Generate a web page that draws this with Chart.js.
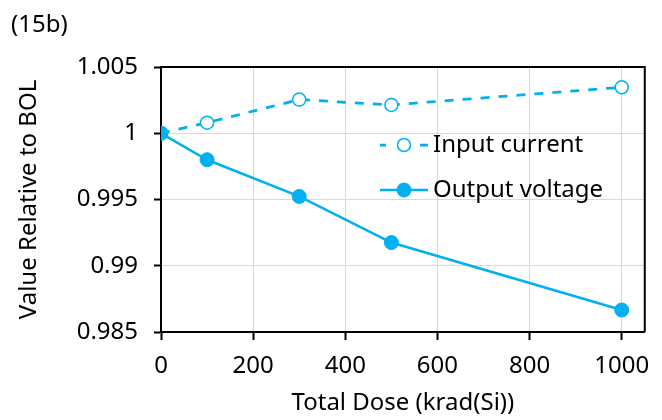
<!DOCTYPE html>
<html>
<head>
<meta charset="utf-8">
<script src="https://cdn.jsdelivr.net/npm/chart.js@4.4.1/dist/chart.umd.min.js"></script>
<style>
  html, body { margin: 0; padding: 0; background: #fff; }
  #wrap { width: 662px; height: 420px; position: relative; }
</style>
</head>
<body>
<div id="wrap"><canvas id="lineChart"></canvas></div>
<script>
// values
var doses = [0, 100, 300, 500, 1000];
var inputCurrent = [1.0, 1.0008, 1.00254, 1.00214, 1.00347];
var outputVoltage = [1.0, 0.998, 0.99523, 0.99175, 0.98666];
var seriesNames = ['Input current', 'Output voltage'];
var xTicks = [0, 200, 400, 600, 800, 1000];
var yTicks = [0.985, 0.99, 0.995, 1, 1.005];
var yTickLabels = ['0.985', '0.99', '0.995', '1', '1.005'];
var panelLabel = '(15b)';

var blue = '#00B0F0';
var fontFamily = '"Noto Sans", "Open Sans", sans-serif';
var fontSize = 24;

function pairs(xs, ys) {
    return xs.map(function(x, i) { return { x: x, y: ys[i] }; });
}

// draws the panel label, the top/right frame and the legend inside the plot
var extras = {
    id: 'extras',
    beforeDatasetsDraw: function(chart) {
        var ctx = chart.ctx, a = chart.chartArea;
        ctx.save();
        ctx.strokeStyle = '#000';
        ctx.lineWidth = 2;
        ctx.beginPath();
        ctx.moveTo(a.left, a.top);
        ctx.lineTo(a.right, a.top);
        ctx.lineTo(a.right, a.bottom);
        ctx.stroke();
        ctx.restore();
    },
    afterDraw: function(chart) {
        var ctx = chart.ctx;
        ctx.save();
        ctx.fillStyle = '#000';
        ctx.font = fontSize + 'px ' + fontFamily;
        ctx.textBaseline = 'middle';
        ctx.textAlign = 'left';
        ctx.fillText(panelLabel, 11, 25);

        var x0 = 380, x1 = 428, y = 145, rowGap = 45;
        chart.data.datasets.forEach(function(ds, i) {
            var yy = y + i * rowGap;
            ctx.strokeStyle = ds.borderColor;
            ctx.lineWidth = ds.borderWidth;
            ctx.beginPath();
            if (ds.borderDash) {
                ctx.moveTo(x0, yy); ctx.lineTo(x0 + 6, yy);
                ctx.moveTo(x1 - 8, yy); ctx.lineTo(x1, yy);
            } else {
                ctx.moveTo(x0, yy); ctx.lineTo(x1, yy);
            }
            ctx.stroke();
            ctx.beginPath();
            ctx.arc((x0 + x1) / 2, yy, ds.pointRadius, 0, Math.PI * 2);
            ctx.fillStyle = ds.pointBackgroundColor;
            ctx.fill();
            ctx.lineWidth = ds.pointBorderWidth;
            ctx.strokeStyle = ds.pointBorderColor;
            ctx.stroke();
            ctx.fillStyle = '#000';
            ctx.fillText(ds.label, x1 + 5, yy);
        });
        ctx.restore();
    }
};

var ctxL = document.getElementById('lineChart').getContext('2d');
var myLineChart = new Chart(ctxL, {
    type: 'scatter',
    data: {
        datasets: [
            {
                label: seriesNames[0],
                data: pairs(doses, inputCurrent),
                showLine: true,
                borderColor: blue,
                borderWidth: 2.75,
                borderDash: [9, 9],
                pointRadius: 6.5,
                pointBackgroundColor: '#fff',
                pointBorderColor: blue,
                pointBorderWidth: 1.5,
                order: 2
            },
            {
                label: seriesNames[1],
                data: pairs(doses, outputVoltage),
                showLine: true,
                borderColor: blue,
                borderWidth: 2.5,
                pointRadius: 7,
                pointBackgroundColor: blue,
                pointBorderColor: blue,
                pointBorderWidth: 1,
                order: 1
            }
        ]
    },
    options: {
        responsive: true,
        maintainAspectRatio: false,
        animation: false,
        layout: { padding: { left: 0, right: 17, top: 67, bottom: 0 } },
        plugins: {
            legend: { display: false },
            tooltip: { enabled: false }
        },
        scales: {
            x: {
                type: 'linear',
                min: 0,
                max: 1050,
                afterBuildTicks: function(axis) {
                    axis.ticks = xTicks.map(function(v) { return { value: v }; });
                },
                afterFit: function(axis) { axis.height = 88; },
                grid: { color: '#d9d9d9', lineWidth: 1, tickLength: 8, tickColor: '#000', tickWidth: 2 },
                border: { color: '#000', width: 2 },
                ticks: {
                    color: '#000',
                    padding: 12,
                    maxRotation: 0,
                    font: { family: fontFamily, size: fontSize },
                    callback: function(value) { return String(value); }
                },
                title: {
                    display: true,
                    text: 'Total Dose (krad(Si))',
                    color: '#000',
                    padding: { top: 0, bottom: 2 },
                    font: { family: fontFamily, size: fontSize }
                }
            },
            y: {
                type: 'linear',
                min: 0.985,
                max: 1.005,
                afterBuildTicks: function(axis) {
                    axis.ticks = yTicks.map(function(v) { return { value: v }; });
                },
                afterFit: function(axis) { axis.width = 161; },
                grid: { color: '#d9d9d9', lineWidth: 1, tickLength: 7, tickColor: '#000', tickWidth: 2 },
                border: { color: '#000', width: 2 },
                ticks: {
                    color: '#000',
                    padding: 16,
                    font: { family: fontFamily, size: fontSize },
                    callback: function(value, index) { return yTickLabels[index]; }
                },
                title: {
                    display: true,
                    text: 'Value Relative to BOL',
                    color: '#000',
                    padding: { top: 15, bottom: 0 },
                    font: { family: fontFamily, size: fontSize }
                }
            }
        }
    },
    plugins: [extras]
});
</script>
</body>
</html>
